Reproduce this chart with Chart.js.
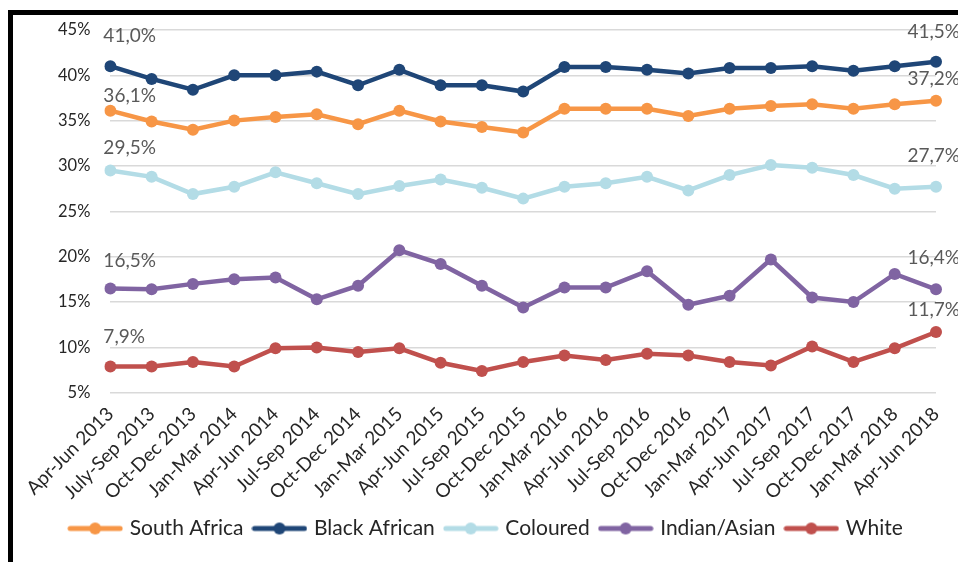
<!DOCTYPE html>
<html>
<head>
<meta charset="utf-8">
<script src="https://cdn.jsdelivr.net/npm/chart.js@4"></script>
<style>
  html, body { margin: 0; padding: 0; background: #fff; }
  #wrap { position: relative; width: 958px; height: 562px; overflow: hidden; }
  #frame { position: absolute; left: 8px; top: 10px; right: -10px; bottom: -10px;
           border-left: 5px solid #000; border-top: 5px solid #000; pointer-events: none; }
</style>
</head>
<body>
<div id="wrap">
  <canvas id="myChart" width="958" height="562"></canvas>
  <div id="frame"></div>
</div>
<script>
// quarters on the x axis
const quarters = ['Apr-Jun 2013', 'July-Sep 2013', 'Oct-Dec 2013', 'Jan-Mar 2014', 'Apr-Jun 2014',
  'Jul-Sep 2014', 'Oct-Dec 2014', 'Jan-Mar 2015', 'Apr-Jun 2015', 'Jul-Sep 2015', 'Oct-Dec 2015',
  'Jan-Mar 2016', 'Apr-Jun 2016', 'Jul-Sep 2016', 'Oct-Dec 2016', 'Jan-Mar 2017', 'Apr-Jun 2017',
  'Jul-Sep 2017', 'Oct-Dec 2017', 'Jan-Mar 2018', 'Apr-Jun 2018']

// unemployment rate, %
const southAfrica   = [36.1, 34.9, 34.0, 35.0, 35.4, 35.7, 34.6, 36.1, 34.9, 34.3, 33.7, 36.3, 36.3, 36.3, 35.5, 36.3, 36.6, 36.8, 36.3, 36.8, 37.2]
const blackAfrican  = [41.0, 39.6, 38.4, 40.0, 40.0, 40.4, 38.9, 40.6, 38.9, 38.9, 38.2, 40.9, 40.9, 40.6, 40.2, 40.8, 40.8, 41.0, 40.5, 41.0, 41.5]
const coloured      = [29.5, 28.8, 26.9, 27.7, 29.3, 28.1, 26.9, 27.8, 28.5, 27.6, 26.4, 27.7, 28.1, 28.8, 27.3, 29.0, 30.1, 29.8, 29.0, 27.5, 27.7]
const indianAsian   = [16.5, 16.4, 17.0, 17.5, 17.7, 15.3, 16.8, 20.7, 19.2, 16.8, 14.4, 16.6, 16.6, 18.4, 14.7, 15.7, 19.7, 15.5, 15.0, 18.1, 16.4]
const white         = [7.9, 7.9, 8.4, 7.9, 9.9, 10.0, 9.5, 9.9, 8.3, 7.4, 8.4, 9.1, 8.6, 9.3, 9.1, 8.4, 8.0, 10.1, 8.4, 9.9, 11.7]

const seriesNames = ['South Africa', 'Black African', 'Coloured', 'Indian/Asian', 'White']
const yTicks = [5, 10, 15, 20, 25, 30, 35, 40, 45]

const colors = ['#f79646', '#1f4677', '#b3dce6', '#8064a2', '#c0504d']
// how far above the first / last point the value label sits
const labelDy = [[15, 22], [30, 30], [23, 31], [28, 31], [30, 22]]

const FONT = 'Lato, "Noto Sans", sans-serif'

function legendIcon(color){
    let c = document.createElement('canvas')
    c.width = 56
    c.height = 14
    let g = c.getContext('2d')
    g.strokeStyle = color
    g.lineWidth = 5
    g.lineCap = 'round'
    g.beginPath()
    g.moveTo(3, 7)
    g.lineTo(53, 7)
    g.stroke()
    g.fillStyle = color
    g.beginPath()
    g.arc(28, 7, 6, 0, Math.PI * 2)
    g.fill()
    return c
}

const endLabels = {
    id: 'endLabels',
    afterDatasetsDraw(chart){
        const ctx = chart.ctx
        ctx.save()
        ctx.font = '19px ' + FONT
        ctx.fillStyle = '#595959'
        ctx.textBaseline = 'middle'
        chart.data.datasets.forEach((ds, i) => {
            const pts = chart.getDatasetMeta(i).data
            const last = pts.length - 1
            ;[0, last].forEach((idx, k) => {
                const p = pts[idx]
                const txt = ds.data[idx].toFixed(1).replace('.', ',') + '%'
                ctx.textAlign = k === 0 ? 'left' : 'right'
                const x = k === 0 ? p.x - 7 : p.x + 24
                ctx.fillText(txt, x, p.y - labelDy[i][k])
            })
        })
        ctx.restore()
    }
}

const allSeries = [southAfrica, blackAfrican, coloured, indianAsian, white]

const datasets = allSeries.map((vals, i) => ({
    label: seriesNames[i],
    data: vals,
    borderColor: colors[i],
    backgroundColor: colors[i],
    borderWidth: 4.5,
    pointRadius: 6,
    pointBorderWidth: 0,
    pointBackgroundColor: colors[i],
    tension: 0
}))

const chart = new Chart(document.getElementById('myChart'), {
    type: 'line',
    data: { labels: quarters, datasets: datasets },
    options: {
        responsive: false,
        animation: false,
        layout: { padding: { left: 38, right: 22, top: 20, bottom: 13 } },
        scales: {
            x: {
                offset: false,
                grid: { display: false },
                border: { display: false },
                ticks: {
                    autoSkip: false,
                    maxRotation: 45,
                    minRotation: 45,
                    padding: 2,
                    color: '#262626',
                    font: { family: FONT, size: 19 }
                }
            },
            y: {
                min: 5,
                max: 45,
                afterBuildTicks(axis){ axis.ticks = yTicks.map(v => ({ value: v })) },
                grid: { color: '#d9d9d9', lineWidth: 1.5, drawTicks: false },
                border: { display: false },
                ticks: {
                    padding: 20,
                    color: '#262626',
                    font: { family: FONT, size: 16.5 },
                    callback: v => v + '%'
                }
            }
        },
        plugins: {
            tooltip: { enabled: false },
            legend: {
                position: 'bottom',
                labels: {
                    usePointStyle: true,
                    pointStyleWidth: 48,
                    padding: 12,
                    color: '#262626',
                    font: { family: FONT, size: 21 },
                    generateLabels(chart){
                        const items = Chart.defaults.plugins.legend.labels.generateLabels(chart)
                        items.forEach((it, i) => { it.pointStyle = legendIcon(colors[i]) })
                        return items
                    }
                }
            }
        }
    },
    plugins: [endLabels]
})
</script>
</body>
</html>
